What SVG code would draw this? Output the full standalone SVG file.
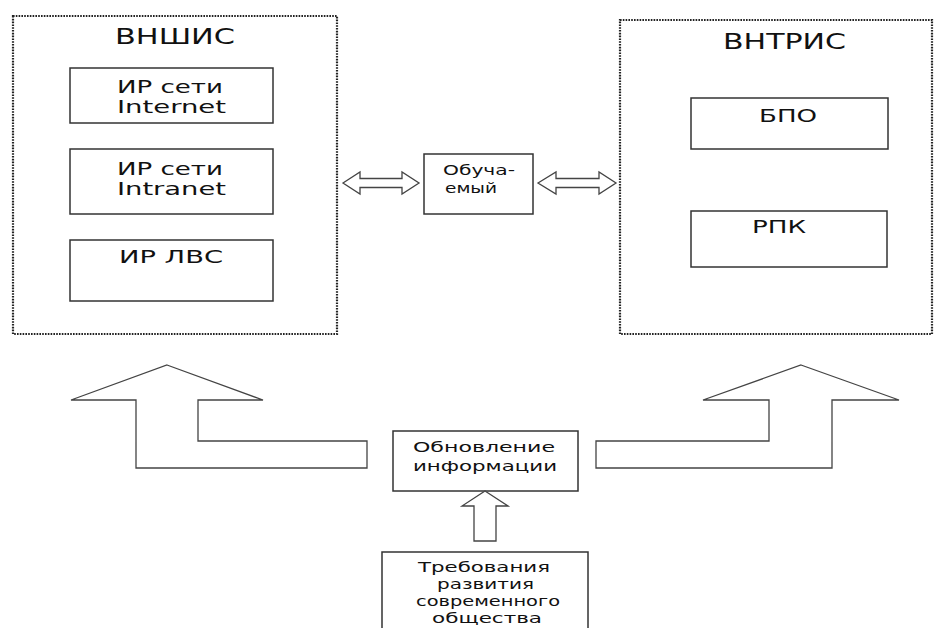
<svg xmlns="http://www.w3.org/2000/svg" width="935" height="628" viewBox="0 0 935 628">
<style>
  .dot { fill: none; stroke: #222; stroke-width: 2.2; stroke-dasharray: 1.6 1.2; }
  .box { fill: #fff; stroke: #333; stroke-width: 1.5; }
  .arr { fill: #fff; stroke: #444; stroke-width: 1.3; stroke-linejoin: miter; }
  text { font-family: "DejaVu Sans", Verdana, sans-serif; fill: #111; }
  .t { font-size: 21px; }
  .l { font-size: 18px; }
  .m { font-size: 14px; }
  .s { font-size: 14px; }
</style>
<rect width="935" height="628" fill="#fff"/>

<g id="vnshis">
  <rect class="dot" x="13" y="16" width="324" height="318"/>
  <text class="t" x="115" y="44" textLength="120" lengthAdjust="spacingAndGlyphs">ВНШИС</text>
</g>
<g id="ir-internet">
  <rect class="box" x="70" y="68" width="203" height="55"/>
  <text class="l" x="117" y="93" textLength="106" lengthAdjust="spacingAndGlyphs">ИР сети</text>
  <text class="l" x="117" y="113" textLength="109" lengthAdjust="spacingAndGlyphs">Internet</text>
</g>
<g id="ir-intranet">
  <rect class="box" x="70" y="149" width="203" height="65"/>
  <text class="l" x="117" y="175" textLength="106" lengthAdjust="spacingAndGlyphs">ИР сети</text>
  <text class="l" x="117" y="195" textLength="109" lengthAdjust="spacingAndGlyphs">Intranet</text>
</g>
<g id="ir-lvs">
  <rect class="box" x="70" y="240" width="203" height="61"/>
  <text class="l" x="119" y="263" textLength="104" lengthAdjust="spacingAndGlyphs">ИР ЛВС</text>
</g>

<g id="vntris">
  <rect class="dot" x="620" y="20" width="312" height="314"/>
  <text class="t" x="723" y="49" textLength="123" lengthAdjust="spacingAndGlyphs">ВНТРИС</text>
</g>
<g id="bpo">
  <rect class="box" x="691" y="98" width="197" height="51"/>
  <text class="l" x="759" y="122" textLength="58" lengthAdjust="spacingAndGlyphs">БПО</text>
</g>
<g id="rpk">
  <rect class="box" x="691" y="211" width="196" height="56"/>
  <text class="l" x="752" y="233" textLength="54" lengthAdjust="spacingAndGlyphs">РПК</text>
</g>

<g id="obuchaemy">
  <rect class="box" x="424" y="154" width="109" height="60"/>
  <text class="m" x="443" y="175" textLength="72" lengthAdjust="spacingAndGlyphs">Обуча-</text>
  <text class="m" x="445" y="193" textLength="52" lengthAdjust="spacingAndGlyphs">емый</text>
</g>

<g id="obnovlenie">
  <rect class="box" x="393" y="431" width="185" height="60"/>
  <text class="s" x="413" y="452" textLength="142" lengthAdjust="spacingAndGlyphs">Обновление</text>
  <text class="s" x="413" y="471" textLength="144" lengthAdjust="spacingAndGlyphs">информации</text>
</g>

<g id="trebovaniya">
  <rect class="box" x="382" y="552" width="206" height="100"/>
  <text class="m" x="418" y="572" textLength="132" lengthAdjust="spacingAndGlyphs">Требования</text>
  <text class="m" x="437" y="589" textLength="97" lengthAdjust="spacingAndGlyphs">развития</text>
  <text class="m" x="416" y="606" textLength="144" lengthAdjust="spacingAndGlyphs">современного</text>
  <text class="m" x="432" y="623" textLength="110" lengthAdjust="spacingAndGlyphs">общества</text>
</g>

<g id="connectors">
  <polygon class="arr" points="343,183 360,172 360,178.5 402,178.5 402,172 419,183 402,194 402,187.5 360,187.5 360,194"/>
  <polygon class="arr" points="538,183 556,172 556,178.5 599,178.5 599,172 616,183 599,194 599,187.5 556,187.5 556,194"/>
  <polygon class="arr" points="167,365 263,400 198,400 198,441 367,441 367,468 136,468 136,400 71,400"/>
  <polygon class="arr" points="801,365 899,400 832,400 832,468 596,468 596,441 769,441 769,400 703,400"/>
  <polygon class="arr" points="485,491 508,506 496,506 496,541 474,541 474,506 462,506"/>
</g>
</svg>
